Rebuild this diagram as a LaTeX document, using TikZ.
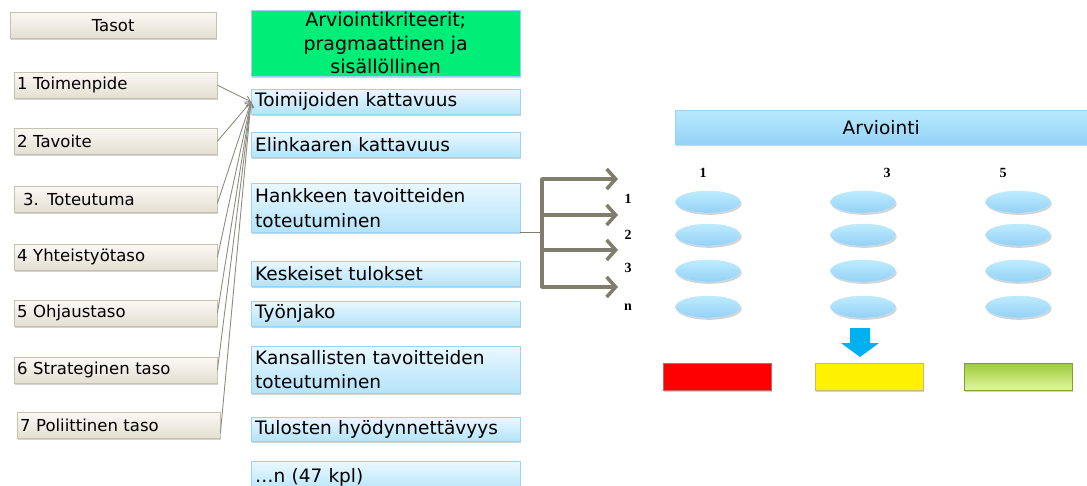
\documentclass[tikz,border=0pt]{standalone}
\usepackage{fontspec}
\setmainfont{DejaVu Sans}
\newfontfamily\numfont{Liberation Serif}
\usetikzlibrary{shadows,shapes.geometric,arrows.meta,calc}
\definecolor{beigetop}{HTML}{FAF9F4}
\definecolor{beigebot}{HTML}{E3DFD2}
\definecolor{beigeborder}{HTML}{C6C2B2}
\definecolor{bluetop}{HTML}{EAF8FF}
\definecolor{bluebot}{HTML}{B3E3FA}
\definecolor{blueborder}{HTML}{9CD3F2}
\definecolor{critgreen}{HTML}{00EE77}
\definecolor{arvtop}{HTML}{B6EAFE}
\definecolor{arvbot}{HTML}{96D2F7}
\definecolor{elltop}{HTML}{BDECFF}
\definecolor{ellbot}{HTML}{94D0F5}
\definecolor{convline}{HTML}{8E8C80}
\definecolor{bracket}{HTML}{7F7E6C}
\definecolor{arrowblue}{HTML}{00B0F0}
\definecolor{gtop}{HTML}{9CCB3A}
\definecolor{gbot}{HTML}{E3F7A0}
\begin{document}
\begin{tikzpicture}[x=1pt,y=-1pt,
  shad/.style={drop shadow={opacity=0.35,shadow xshift=1.2pt,shadow yshift=-1.8pt}},
  levelbox/.style={shad,draw=beigeborder,top color=beigetop,bottom color=beigebot,
    anchor=north west,minimum height=26pt,inner xsep=3pt,inner ysep=0pt,
    text width=197pt,align=left,font=\fontsize{16.5}{18}\selectfont},
  critbox/.style={shad,draw=blueborder,top color=bluetop,bottom color=bluebot,
    anchor=north west,minimum height=25pt,inner xsep=4pt,inner ysep=0pt,
    text width=261pt,align=left,font=\fontsize{18.5}{25}\selectfont},
  ell/.style={shad,ellipse,draw=blueborder!60,top color=elltop,bottom color=ellbot,
    minimum width=65pt,minimum height=22pt,inner sep=0pt},
  numlab/.style={font=\numfont\bfseries\fontsize{14}{14}\selectfont,inner sep=0pt},
  conv/.style={draw=convline,line width=0.9pt,-{Straight Barb[length=5pt,width=7pt]}},
  brk/.style={draw=bracket,line width=3.5pt},
  brkarrow/.style={brk,-{Straight Barb[length=9pt,width=20pt]}},
  bar/.style={shad,minimum width=108pt,minimum height=27pt,anchor=north west,inner sep=0pt}
]
\useasboundingbox (0,0) rectangle (1087,485);

% Level boxes
\node[levelbox,text width=200pt,align=center] (tasot) at (10,12) {Tasot};
\node[levelbox] (b1) at (14,72) {1 Toimenpide};
\node[levelbox] (b2) at (14,128) {2 Tavoite};
\node[levelbox] (b3) at (14,186) {\hspace{6pt}3. Toteutuma};
\node[levelbox] (b4) at (14,244) {4 Yhteistyötaso};
\node[levelbox] (b5) at (14,300) {5 Ohjaustaso};
\node[levelbox] (b6) at (14,357) {6 Strateginen taso};
\node[levelbox] (b7) at (17,412) {7 Poliittinen taso};

% Criteria
\node[shad,draw=blueborder,fill=critgreen,anchor=north west,minimum width=269pt,
  minimum height=66pt,inner sep=0pt,align=center,
  font=\fontsize{19}{23.5}\selectfont] (crit) at (251,10)
  {Arviointikriteerit;\\pragmaattinen ja\\sisällöllinen};
\node[critbox] (c1) at (251,89) {Toimijoiden kattavuus};
\node[critbox] (c2) at (251,132) {Elinkaaren kattavuus};
\node[critbox,minimum height=49pt] (c3) at (251,183) {Hankkeen tavoitteiden\\toteutuminen};
\node[critbox] (c4) at (251,261) {Keskeiset tulokset};
\node[critbox] (c5) at (251,301) {Työnjako};
\node[critbox,minimum height=47pt,font=\fontsize{18.5}{24}\selectfont] (c6) at (251,346)
  {Kansallisten tavoitteiden\\toteutuminen};
\node[critbox,minimum height=24pt] (c7) at (251,417) {Tulosten hyödynnettävyys};
\node[critbox,minimum height=32pt] (c8) at (251,461) {…n (47 kpl)};

% Converging connectors
\coordinate (conv) at (c1.west);
\draw[conv] (b1.east) -- (conv);
\draw[conv] (b2.east) -- (conv);
\draw[conv] ([yshift=-4pt]b3.east) -- (conv);
\draw[conv] (b4.east) -- (conv);
\draw[conv] (b5.east) -- (conv);
\draw[conv] (b6.east) -- (conv);
\draw[conv] ([yshift=-8pt]b7.east) -- (conv);

% Bracket
\coordinate (bt) at (542,179);
\coordinate (bb) at (542,287);
\coordinate (a1) at (618,179);
\coordinate (a2) at (618,215);
\coordinate (a3) at (618,250);
\coordinate (a4) at (618,287);
\draw[draw=bracket,line width=1.8pt] (c3.south east) -- (bt |- c3.south east);
\draw[brk,line cap=round] (bt) -- (bb);
\draw[brkarrow] (bt) -- (a1);
\draw[brkarrow] (bt |- a2) -- (a2);
\draw[brkarrow] (bt |- a3) -- (a3);
\draw[brkarrow] (bb) -- (a4);
\node[numlab] (n1) at (628,199) {1};
\node[numlab] (n2) at (628,235) {2};
\node[numlab] (n3) at (628,268) {3};
\node[numlab] (nn) at (628,307) {n};

% Evaluation
\node[shad,draw=blueborder,top color=arvtop,bottom color=arvbot,anchor=north west,
  minimum width=412pt,minimum height=34pt,inner sep=0pt,
  font=\fontsize{18.5}{18.5}\selectfont] (arv) at (675,110) {Arviointi};
\node[numlab] (l1) at (703,173) {1};
\node[numlab] (l3) at (887,173) {3};
\node[numlab] (l5) at (1003,173) {5};

\foreach \col/\x in {a/708,b/863,c/1018}{
  \foreach \row/\y in {1/202,2/235,3/271,4/307}{
    \node[ell] (e\col\row) at (\x,\y) {};
  }
}

% Blue arrow
\fill[arrowblue] (850,328) -- (870,328) -- (870,343) -- (879,343) -- (860,357)
  -- (841,343) -- (850,343) -- cycle;

% Bars
\node[bar,draw=red!60!black!60,fill=red] (red) at (663,363) {};
\node[bar,draw=yellow!60!black!70,fill=yellow] (yel) at (815,363) {};
\node[bar,draw=gtop!80!black,top color=gtop,bottom color=gbot] (grn) at (964,363) {};
\end{tikzpicture}
\end{document}
